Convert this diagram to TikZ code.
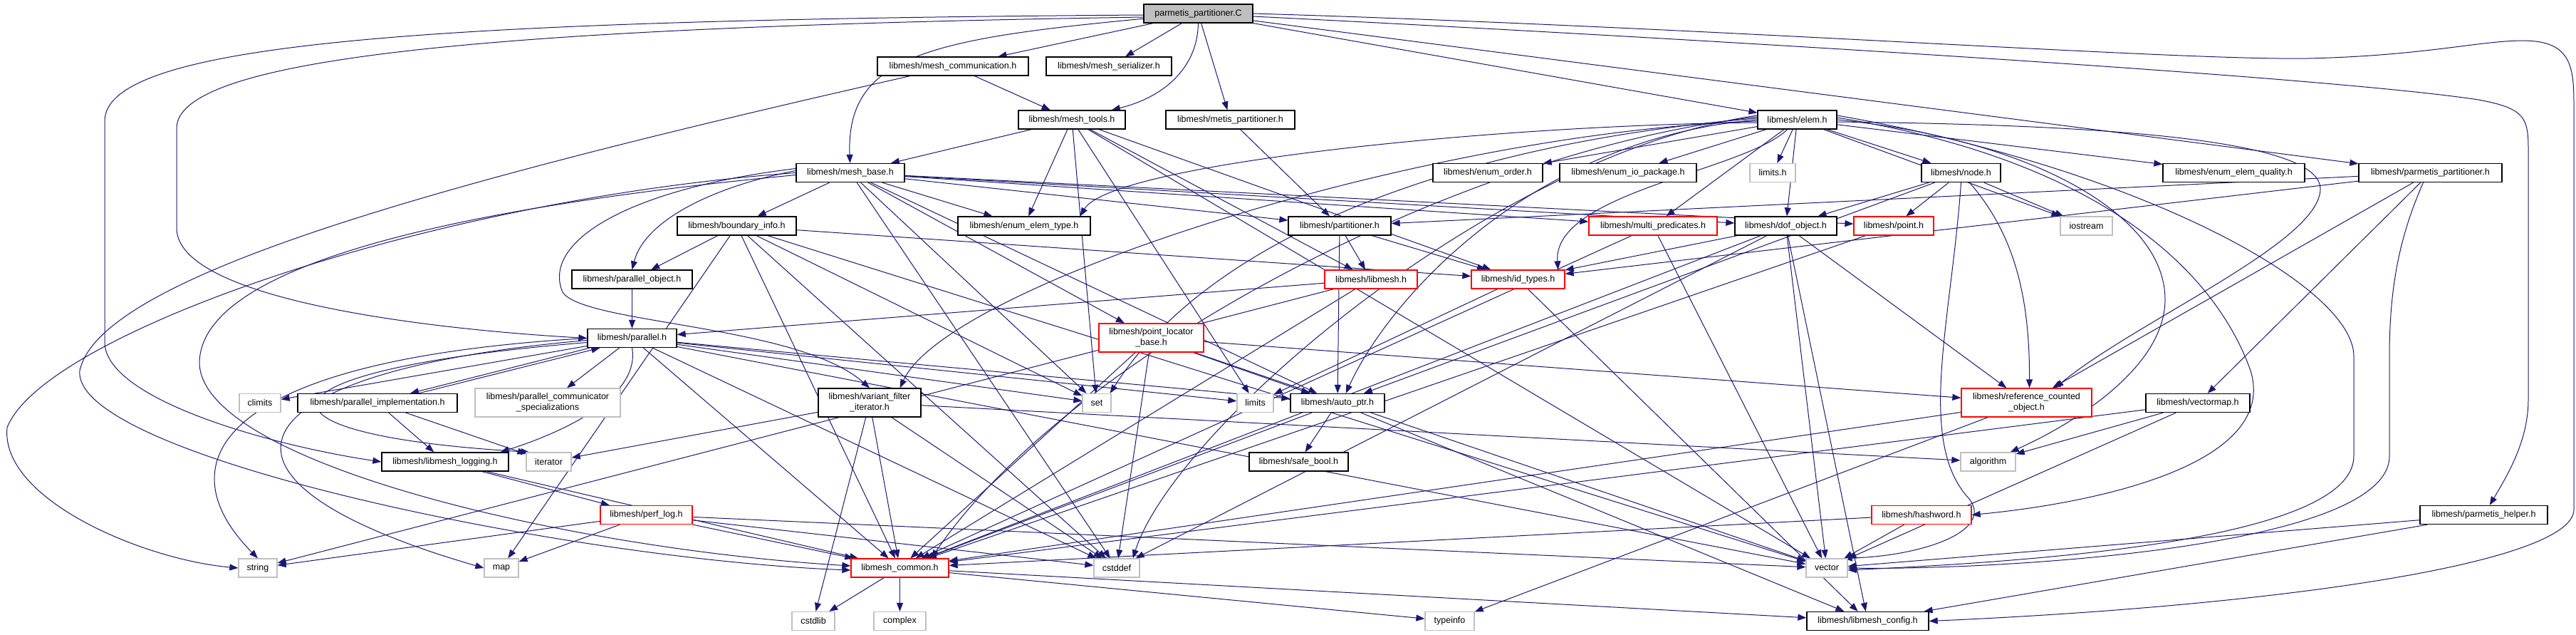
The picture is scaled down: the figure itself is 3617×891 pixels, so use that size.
\documentclass[tikz,border=0pt]{standalone}
\usepackage{fontspec}
\setmainfont{Liberation Sans}
\usetikzlibrary{arrows.meta}
\definecolor{edgec}{HTML}{191970}
\definecolor{gborder}{HTML}{BFBFBF}
\pgfdeclarelayer{bg}
\pgfsetlayers{bg,main}
\tikzset{
  nb/.style={draw=black, line width=1.3pt, fill=white, minimum height=26pt, inner sep=0pt,
             font=\fontsize{12.5pt}{15pt}\selectfont, align=center},
  nr/.style={nb, draw=red},
  ng/.style={nb, draw=gborder},
  ntop/.style={nb, fill=gborder},
  dep/.style={draw=edgec, line width=1pt, -{Triangle[length=12pt,width=9pt]}},
}
\begin{document}
\begin{tikzpicture}[x=1pt, y=-1pt]
\useasboundingbox (0,0) rectangle (3617,891);
% nodes
\node[ntop, minimum width=153pt] (top) at (1682.5,19) {parmetis\_partitioner.C};
\node[nb, minimum width=212pt] (mcomm) at (1338,93) {libmesh/mesh\_communication.h};
\node[nb, minimum width=176pt] (mser) at (1557,93) {libmesh/mesh\_serializer.h};
\node[nb, minimum width=150pt] (mtools) at (1505,168) {libmesh/mesh\_tools.h};
\node[nb, minimum width=181pt] (metis) at (1727.5,168) {libmesh/metis\_partitioner.h};
\node[nb, minimum width=111pt] (elem) at (2523.5,168) {libmesh/elem.h};
\node[nb, minimum width=152pt] (mbase) at (1194,242.5) {libmesh/mesh\_base.h};
\node[nb, minimum width=154pt] (eorder) at (2089,242.5) {libmesh/enum\_order.h};
\node[nb, minimum width=192pt] (eio) at (2286,242.5) {libmesh/enum\_io\_package.h};
\node[ng, minimum width=64pt] (limitsh) at (2489,242.5) {limits.h};
\node[nb, minimum width=111pt] (nodeh) at (2753.5,242.5) {libmesh/node.h};
\node[nb, minimum width=199pt] (equal) at (3136.5,242.5) {libmesh/enum\_elem\_quality.h};
\node[nb, minimum width=201pt] (ppart) at (3412.5,242.5) {libmesh/parmetis\_partitioner.h};
\node[nb, minimum width=167pt] (binfo) at (1034.5,317) {libmesh/boundary\_info.h};
\node[nb, minimum width=186pt] (etype) at (1438,317) {libmesh/enum\_elem\_type.h};
\node[nb, minimum width=144pt] (part) at (1881,317) {libmesh/partitioner.h};
\node[nr, minimum width=180pt] (mpred) at (2321,317) {libmesh/multi\_predicates.h};
\node[nb, minimum width=143pt] (dof) at (2507.5,317) {libmesh/dof\_object.h};
\node[nr, minimum width=112pt] (pointh) at (2659,317) {libmesh/point.h};
\node[ng, minimum width=73pt] (iostream) at (2929.5,317) {iostream};
\node[nb, minimum width=169pt] (pobj) at (887.5,392) {libmesh/parallel\_object.h};
\node[nr, minimum width=130pt] (libmesh) at (1925,392) {libmesh/libmesh.h};
\node[nr, minimum width=131pt] (idtypes) at (2131.5,392) {libmesh/id\_types.h};
\node[nb, minimum width=125pt] (parallel) at (887.5,474.5) {libmesh/parallel.h};
\node[nr, minimum width=147pt, minimum height=40pt] (ploc) at (1616.5,474) {libmesh/point\_locator\\\_base.h};
\node[ng, minimum width=58pt] (climits) at (365,565.5) {climits};
\node[nb, minimum width=224pt] (pimpl) at (530,565.5) {libmesh/parallel\_implementation.h};
\node[ng, minimum width=204pt, minimum height=40pt] (pcomm) at (769,565) {libmesh/parallel\_communicator\\\_specializations};
\node[nb, minimum width=144pt, minimum height=40pt] (vfi) at (1221,565) {libmesh/variant\_filter\\\_iterator.h};
\node[ng, minimum width=40pt] (seth) at (1540,565.5) {set};
\node[ng, minimum width=51pt] (limitsx) at (1762.5,565.5) {limits};
\node[nb, minimum width=132pt] (autoptr) at (1878,565.5) {libmesh/auto\_ptr.h};
\node[nr, minimum width=183pt, minimum height=40pt] (refc) at (2845.5,565) {libmesh/reference\_counted\\\_object.h};
\node[nb, minimum width=146pt] (vmap) at (3086,565.5) {libmesh/vectormap.h};
\node[nb, minimum width=178pt] (logging) at (625,648) {libmesh/libmesh\_logging.h};
\node[ng, minimum width=63pt] (iterator) at (770.5,648) {iterator};
\node[nb, minimum width=139pt] (safebool) at (1823.5,648) {libmesh/safe\_bool.h};
\node[ng, minimum width=77pt] (algorithm) at (2791.5,648) {algorithm};
\node[nr, minimum width=129pt] (perflog) at (907.5,722.5) {libmesh/perf\_log.h};
\node[nr, minimum width=140pt] (hashword) at (2698,722.5) {libmesh/hashword.h};
\node[nb, minimum width=179pt] (phelper) at (3487.5,722.5) {libmesh/parmetis\_helper.h};
\node[ng, minimum width=54pt] (stringh) at (362,797) {string};
\node[ng, minimum width=48pt] (maph) at (704,797) {map};
\node[nr, minimum width=137pt] (common) at (1263.5,797) {libmesh\_common.h};
\node[ng, minimum width=64pt] (cstddef) at (1568,797) {cstddef};
\node[ng, minimum width=58pt] (vectorh) at (2565,797) {vector};
\node[ng, minimum width=60pt] (cstdlib) at (1142,871.5) {cstdlib};
\node[ng, minimum width=73pt] (complex) at (1263.5,871.5) {complex};
\node[ng, minimum width=69pt] (typeinfo) at (2035.5,871.5) {typeinfo};
\node[nb, minimum width=171pt] (config) at (2622.5,871.5) {libmesh/libmesh\_config.h};
% edges
\begin{pgfonlayer}{bg}
\foreach \a/\b in {top/mcomm, top/mser, top/metis, top/elem, top/ppart,
  mcomm/mtools,
  mtools/mbase, mtools/etype, mtools/libmesh, mtools/idtypes, mtools/seth, mtools/limitsx, mtools/vectorh,
  metis/part,
  elem/eorder, elem/eio, elem/limitsh, elem/nodeh, elem/equal, elem/mpred, elem/dof,
  elem/iostream,
  mbase/binfo, mbase/etype, mbase/part, mbase/mpred, mbase/dof, mbase/pointh, mbase/ploc,
  mbase/autoptr, mbase/cstddef, mbase/seth,
  nodeh/dof, nodeh/pointh, nodeh/iostream, nodeh/autoptr,
  ppart/part, ppart/idtypes, ppart/vmap, ppart/refc,
  binfo/pobj, binfo/idtypes, binfo/maph, binfo/seth, binfo/common, binfo/cstddef, binfo/vectorh,
  part/libmesh, part/idtypes, part/autoptr,
  mpred/vectorh, mpred/common,
  dof/idtypes, dof/refc, dof/common, dof/cstddef, dof/vectorh, dof/config,
  pointh/common,
  pobj/parallel,
  libmesh/parallel, libmesh/common, libmesh/stringh,
  idtypes/limitsx, idtypes/config,
  parallel/climits, parallel/pcomm, parallel/seth, parallel/limitsx, parallel/autoptr,
  parallel/common, parallel/cstddef, parallel/vectorh,
  ploc/autoptr, ploc/refc, ploc/common, ploc/cstddef, ploc/vectorh,
  pimpl/logging, pimpl/iterator,
  vfi/iterator, vfi/common, vfi/cstdlib, vfi/cstddef, vfi/algorithm,
  autoptr/safebool, autoptr/common, autoptr/config,
  refc/typeinfo, refc/common,
  vmap/algorithm, vmap/vectorh, vmap/common,
  logging/perflog, logging/common,
  perflog/stringh, perflog/maph, perflog/common, perflog/cstddef, perflog/vectorh,
  hashword/vectorh, hashword/common,
  phelper/vectorh, phelper/config,
  common/cstdlib, common/complex, common/typeinfo, common/config}
  \draw[dep] (\a) -- (\b);
% curved edges
\draw[dep] ([yshift=-2pt]top.west) .. controls (600,28) and (147,60) .. (147,170) -- (147,480) .. controls (147,560) and (380,625) .. (logging.west);
\draw[dep] ([yshift=-5pt]top.west) .. controls (700,38) and (248,80) .. (248,180) -- (248,320) .. controls (248,420) and (600,462) .. (parallel.west);
\draw[dep] (top) .. controls (1300,55) and (1188,80) .. (mbase);
\draw[dep] (top) .. controls (1682,90) and (1640,135) .. (mtools);
\draw[dep] (top.east) .. controls (2400,38) and (3050,85) .. (3240,82) .. controls (3420,78) and (3500,52) .. (3560,58) .. controls (3612,64) and (3614,100) .. (3614,150) -- (3614,715) .. controls (3614,790) and (3200,850) .. (config.east);
\draw[dep] ([yshift=-4pt]top.east) .. controls (2300,50) and (3250,105) .. (3480,140) .. controls (3545,152) and (3550,165) .. (3550,210) -- (3550,560) .. controls (3550,615) and (3525,660) .. (phelper);
\draw[dep] (mcomm) .. controls (600,260) and (140,390) .. (112,520) .. controls (100,640) and (800,785) .. ([yshift=-3pt]common.west);
\draw[dep] (mbase.west) .. controls (600,280) and (60,470) .. (10,600) .. controls (0,700) and (200,785) .. (stringh.west);
\draw[dep] ([yshift=-3pt]mbase.west) .. controls (600,295) and (280,380) .. (280,510) .. controls (285,650) and (800,770) .. ([yshift=3pt]common.west);
\draw[dep] ([yshift=3pt]mbase.west) .. controls (1000,262) and (905,310) .. (pobj.north);
\draw[dep] ([yshift=6pt]mbase.west) .. controls (880,265) and (760,340) .. (790,410) .. controls (820,455) and (1120,455) .. (vfi.north);
\draw[dep] (parallel.west) .. controls (300,505) and (230,650) .. (stringh.north);
\draw[dep] ([yshift=-3pt]parallel.west) .. controls (330,520) and (240,670) .. (maph.west);
\draw[dep] ([yshift=-6pt]parallel.west) .. controls (340,520) and (330,610) .. ([xshift=5pt]iterator.north west);
\draw[dep] (parallel.south) .. controls (900,560) and (780,610) .. ([xshift=-12pt]logging.north east);
\draw[dep] ([xshift=4pt]parallel.south west) -- ([xshift=46pt]pimpl.north);
\draw[dep] ([xshift=58pt]pimpl.north) -- ([xshift=18pt]parallel.south west);
% elem sweeping curves to the left
\draw[dep] ([yshift=-4pt]elem.west) .. controls (2100,175) and (1560,230) .. ([xshift=-15pt]etype.north east);
\draw[dep] ([yshift=-2pt]elem.west) .. controls (2000,185) and (1330,400) .. ([xshift=-30pt]vfi.north east);
\draw[dep] ([yshift=0pt]elem.west) .. controls (2150,195) and (1950,420) .. ([xshift=-55pt]autoptr.north east);
\draw[dep] ([yshift=2pt]elem.west) .. controls (2050,200) and (1700,330) .. ([xshift=-2pt]seth.north east);
\draw[dep] ([yshift=4pt]elem.west) .. controls (2050,210) and (1500,500) .. ([xshift=-25pt]common.north east);
\draw[dep] ([yshift=6pt]elem.west) .. controls (2100,215) and (1650,600) .. ([xshift=-10pt]cstddef.north east);
\draw[dep] (elem) .. controls (2450,240) and (2180,270) .. ([xshift=-10pt]idtypes.north east);
% right-hand sweeping curves
\draw[dep] ([yshift=-3pt]elem.east) .. controls (2950,175) and (3258,195) .. (3258,265) .. controls (3258,340) and (3000,450) .. ([xshift=40pt]refc.north);
\draw[dep] ([yshift=0pt]elem.east) .. controls (2850,195) and (3040,300) .. (3040,420) .. controls (3040,520) and (2900,600) .. ([xshift=-8pt]algorithm.north east);
\draw[dep] ([yshift=3pt]elem.east) .. controls (2950,225) and (3110,380) .. (3160,520) .. controls (3200,650) and (2950,705) .. (hashword.east);
\draw[dep] ([yshift=6pt]elem.east) .. controls (3000,235) and (3305,400) .. (3305,500) -- (3305,640) .. controls (3305,765) and (2800,790) .. ([yshift=-3pt]vectorh.east);
\draw[dep] ([xshift=-10pt]ppart.south) .. controls (3370,330) and (3355,400) .. (3355,500) -- (3355,640) .. controls (3355,770) and (2800,800) .. (vectorh.east);
\draw[dep] (nodeh) .. controls (2830,330) and (2850,420) .. ([xshift=4pt]refc.north);
\draw[dep] (nodeh.south) .. controls (2740,450) and (2690,620) .. (2765,700) .. controls (2800,745) and (2700,780) .. ([xshift=-6pt]vectorh.north east);
\end{pgfonlayer}
\end{tikzpicture}
\end{document}
